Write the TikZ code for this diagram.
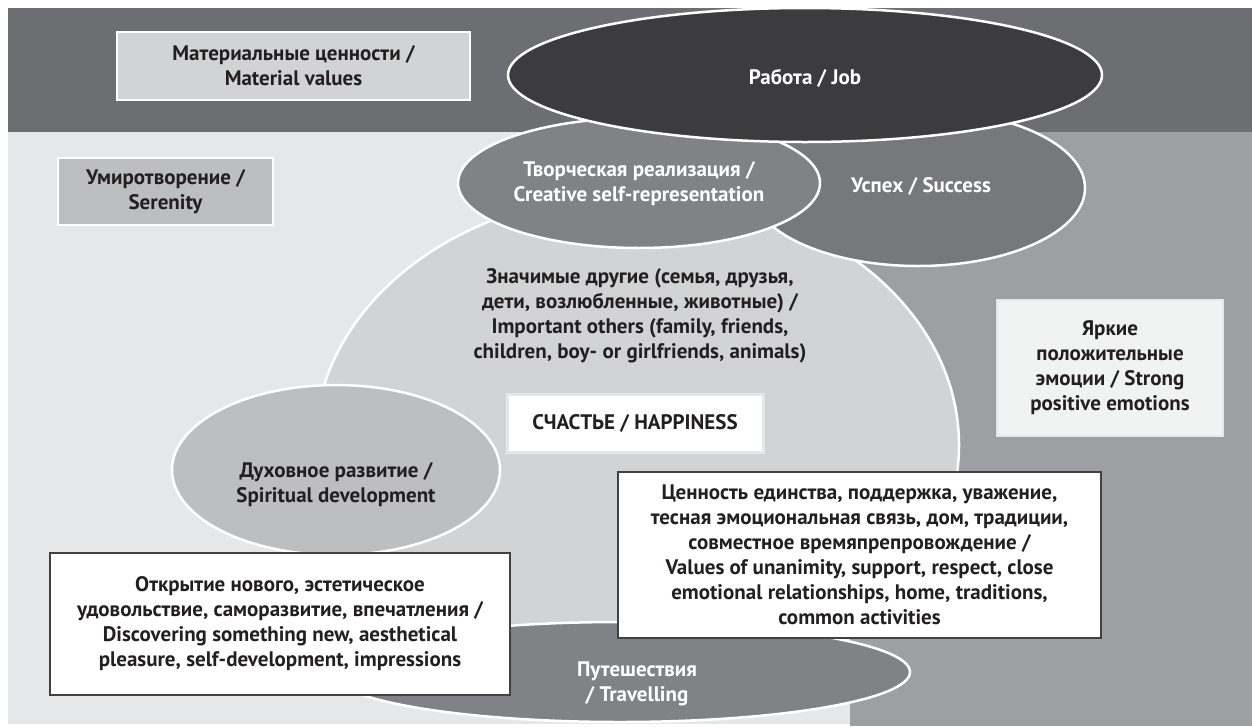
\documentclass[tikz,border=0pt]{standalone}
\usepackage{fontspec}
\setmainfont{PT Sans}
\usetikzlibrary{shapes.geometric}
\definecolor{band}{HTML}{6D6E71}
\definecolor{bglight}{HTML}{E6E7E8}
\definecolor{bgmed}{HTML}{9D9FA2}
\definecolor{jobc}{HTML}{3C3C3E}
\definecolor{creac}{HTML}{808285}
\definecolor{succ}{HTML}{77787B}
\definecolor{bigc}{HTML}{D1D3D4}
\definecolor{spirc}{HTML}{BCBEC0}
\definecolor{travc}{HTML}{808285}
\definecolor{strongc}{HTML}{F1F2F2}
\definecolor{ink}{HTML}{231F20}
\definecolor{boxline}{HTML}{414042}
\begin{document}
\begin{tikzpicture}[x=1pt,y=-1pt,
  ell/.style={ellipse, draw=white, line width=2.5pt, inner sep=0pt},
  txt/.style={font=\fontsize{21}{25}\selectfont\bfseries, align=center, text=ink, inner sep=0pt},
  wtxt/.style={txt, text=white},
  tbox/.style={rectangle, inner sep=0pt, font=\fontsize{21}{25}\selectfont\bfseries, align=center, text=ink}]
\useasboundingbox (0,0) rectangle (1252,726);
\fill[band] (8,8) rectangle (1252,132);
\fill[bglight] (8,132) rectangle (850,724);
\fill[bgmed] (850,132) rectangle (1252,726);
% ellipses
\node[ell, fill=bigc, minimum width=644pt, minimum height=503pt] (big) at (637,445) {};
\node[ell, fill=succ, minimum width=334pt, minimum height=156pt] (succ) at (918,188) {};
\node[ell, fill=creac, minimum width=362pt, minimum height=130pt] (crea) at (639,183) {};
\node[ell, fill=jobc, minimum width=594pt, minimum height=134pt] (job) at (805,75) {};
\node[ell, fill=spirc, minimum width=328pt, minimum height=170pt] (spir) at (336,470) {};
\node[ell, fill=travc, minimum width=580pt, minimum height=100pt] (trav) at (620,672) {};
% ellipse texts
\node[wtxt] (jobt) at (805,78) {Работа / Job};
\node[wtxt] (creat) at (639,184) {Творческая реализация /\\Creative self-representation};
\node[wtxt] (succt) at (921,186) {Успех / Success};
\node[txt] (bigt) at (640,316) {Значимые другие (семья, друзья,\\дети, возлюбленные, животные) /\\Important others (family, friends,\\children, boy- or girlfriends, animals)};
\node[txt] (spirt) at (336,485) {Духовное развитие /\\Spiritual development};
\node[wtxt] (travt) at (637,684) {Путешествия\\/ Travelling};
% boxes
\node[tbox, fill=bigc, draw=white, line width=2pt, minimum width=353pt, minimum height=68pt] (mat) at (293.5,66) {Материальные ценности /\\Material values};
\node[tbox, fill=spirc, draw=white, line width=2pt, minimum width=215pt, minimum height=67pt] (ser) at (165.5,191.5) {Умиротворение /\\Serenity};
\node[tbox, fill=white, draw=bglight, line width=3pt, minimum width=256pt, minimum height=58pt] (hap) at (635,423) {СЧАСТЬЕ / HAPPINESS};
\node[tbox, fill=strongc, draw=bglight, line width=1.5pt, minimum width=226pt, minimum height=136pt] (strong) at (1110,368) {Яркие\\положительные\\эмоции / Strong\\positive emotions};
\node[tbox, fill=white, draw=boxline, line width=1.5pt, minimum width=483pt, minimum height=166pt] (vals) at (859.5,555) {Ценность единства, поддержка, уважение,\\тесная эмоциональная связь, дом, традиции,\\совместное времяпрепровождение /\\Values of unanimity, support, respect, close\\emotional relationships, home, traditions,\\common activities};
\node[tbox, fill=white, draw=boxline, line width=1.5pt, minimum width=460pt, minimum height=142pt] (disc) at (280,624) {Открытие нового, эстетическое\\удовольствие, саморазвитие, впечатления /\\Discovering something new, aesthetical\\pleasure, self-development, impressions};
\end{tikzpicture}
\end{document}
